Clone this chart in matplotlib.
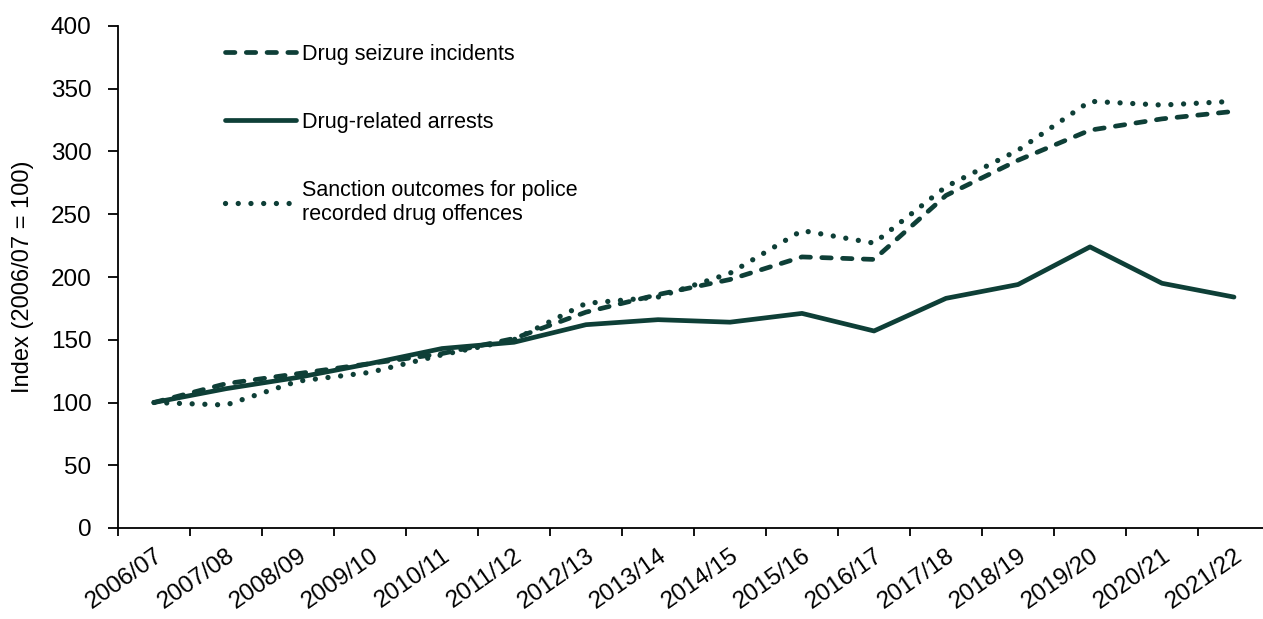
# -*- coding: utf-8 -*-
"""
Drug seizures, arrests and sanction outcomes indexed to 2006/07 = 100
"""

import matplotlib
matplotlib.use("Agg")
import matplotlib.pyplot as plt

# data
years = ["2006/07", "2007/08", "2008/09", "2009/10", "2010/11", "2011/12",
         "2012/13", "2013/14", "2014/15", "2015/16", "2016/17", "2017/18",
         "2018/19", "2019/20", "2020/21", "2021/22"]
seizures = [100, 115, 123, 131, 139, 151, 172, 186, 198, 216, 214, 265,
            293, 317, 326, 332]
arrests = [100, 111, 120, 131, 143, 148, 162, 166, 164, 171, 157, 183,
           194, 224, 195, 184]
sanctions = [100, 98, 117, 124, 138, 150, 179, 184, 203, 237, 227, 272,
             301, 340, 337, 340]

green = "#0e3f37"
plt.rcParams['font.family'] = ['Liberation Sans', 'DejaVu Sans']


def main():
    fig = plt.figure(figsize=(12.63, 6.19), dpi=100)
    ax = fig.add_axes([118 / 1263, 91 / 619, 1152 / 1263, 502 / 619])

    x = list(range(len(years)))
    ax.plot(x, seizures, color=green, lw=3.4, linestyle=(0, (2.0, 2.4)),
            dash_capstyle='round', label="Drug seizure incidents")
    ax.plot(x, arrests, color=green, lw=3.4, solid_capstyle='round',
            label="Drug-related arrests")
    ax.plot(x, sanctions, color=green, lw=3.8, linestyle=(0, (0.01, 2.4)),
            dash_capstyle='round',
            label="Sanction outcomes for police\nrecorded drug offences")

    ax.set_xlim(-0.5, len(years) - 0.5)
    ax.set_ylim(0, 400)
    ax.set_yticks(range(0, 401, 50))
    ax.tick_params(axis='y', labelsize=17.5, length=7, width=1.3, pad=12)

    # ticks on category boundaries, labels on category centres
    ax.set_xticks([i - 0.5 for i in range(len(years) + 1)])
    ax.set_xticklabels([])
    ax.set_xticks(x, minor=True)
    ax.set_xticklabels(years, minor=True, rotation=35, ha='right',
                       rotation_mode='anchor', fontsize=17.5)
    ax.tick_params(axis='x', which='major', length=6, width=1.3)
    ax.tick_params(axis='x', which='minor', length=0, pad=12)

    for side in ['top', 'right']:
        ax.spines[side].set_visible(False)
    for side in ['left', 'bottom']:
        ax.spines[side].set_linewidth(1.3)

    ax.set_ylabel("Index (2006/07 = 100)", fontsize=17)
    ax.yaxis.set_label_coords(-84 / 1152, 0.5)

    ax.legend(loc='upper left', bbox_to_anchor=(0.093, 0.965), frameon=False,
              fontsize=15.5, handlelength=3.3, handletextpad=0.25,
              labelspacing=2.2, borderpad=0, borderaxespad=0)

    plt.savefig("out.png", dpi=100)


if __name__ == '__main__':
    main()
